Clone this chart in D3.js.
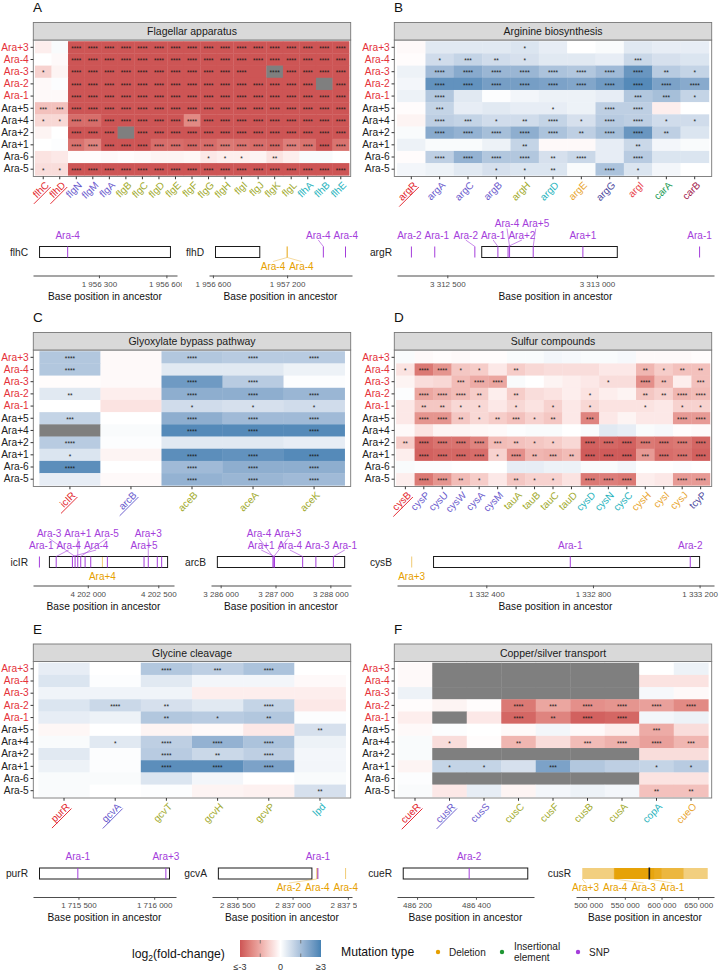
<!DOCTYPE html>
<html><head><meta charset="utf-8">
<script src="https://cdn.jsdelivr.net/npm/d3@7/dist/d3.min.js"></script>
<style>
html,body{margin:0;padding:0;background:#fff;}
svg text{font-family:"Liberation Sans",Arial,Helvetica,sans-serif;}
</style></head>
<body><svg id="chart" width="719" height="971"></svg>
<script>
// ---------------- DATA ----------------
const populations = ["Ara+3","Ara-4","Ara-3","Ara-2","Ara-1","Ara+5","Ara+4","Ara+2","Ara+1","Ara-6","Ara-5"];
const highlightPops = ["Ara+3","Ara-4","Ara-3","Ara-2","Ara-1"];

// Panel A
const genesA = ["flhC","flhD","flgN","flgM","flgA","flgB","flgC","flgD","flgE","flgF","flgG","flgH","flgI","flgJ","flgK","flgL","flhA","flhB","flhE"];
const rolesA = ["reg","reg","bv","bv","bv","ol","ol","ol","ol","ol","ol","ol","ol","ol","ol","ol","tl","tl","tl"];
const fcA = [
 [-0.3,0.1,-3.6,-3.6,-3.6,-3.6,-3.6,-3.6,-3.6,-3.6,-3.6,-3.6,-3.6,-3.6,-3.6,-3.6,-3.6,-3.6,-3.6],
 [0,-0.1,-3.6,-3.6,-3.6,-3.6,-3.6,-3.6,-3.6,-3.6,-3.6,-3.6,-3.6,-3.6,-3.6,-3.6,-3.6,-3.6,-3.6],
 [-0.8,-0.2,-3.6,-3.6,-3.6,-3.6,-3.6,-3.6,-3.6,-3.6,-3.6,-3.6,-3.6,-3.6,null,-3.6,-3.6,-3.6,-3.6],
 [-0.1,0.05,-3.6,-3.6,-3.6,-3.6,-3.6,-3.6,-3.6,-3.6,-3.6,-3.6,-3.6,-3.6,-3.6,-3.6,-3.6,null,-3.6],
 [-0.1,-0.1,-3.6,-3.6,-3.6,-3.6,-3.6,-3.6,-3.6,-3.6,-3.6,-3.6,-3.6,-3.6,-3.6,-3.6,-3.6,-3.6,-3.6],
 [-1.1,-1.1,-3.6,-3.6,-3.6,-3.6,-3.6,-3.6,-3.6,-3.6,-3.6,-3.6,-3.6,-3.6,-3.6,-3.6,-3.6,-3.6,-3.6],
 [-0.7,-0.7,-2.6,-2.6,-3.2,-3.2,-3.2,-3.2,-3.2,-2.1,-3.2,-3.2,-3.2,-3.2,-3.2,-3.2,-3.2,-3.2,-3.2],
 [-0.2,0,-3.6,-3.6,-3.6,null,-3.6,-3.6,-3.6,-3.6,-3.6,-3.6,-3.6,-3.6,-3.6,-3.6,-3.6,-3.6,-3.6],
 [0,0.05,-2.5,-2.2,-3.1,-3.1,-3.1,-2.6,-2.6,-2.7,-2.6,-2.4,-2.5,-2.6,-2.7,-2.3,-2.5,-3.1,-2.5],
 [-0.5,-0.4,-0.05,-0.05,-0.1,-0.05,-0.1,-0.2,-0.2,-0.15,-0.4,-0.3,-0.3,-0.2,-0.5,-0.3,0.1,0.1,0],
 [-0.6,-0.6,-3.6,-3.6,-3.6,-3.6,-3.6,-3.6,-3.6,-3.6,-3.6,-3.6,-3.6,-3.6,-3.6,-3.6,-3.6,-3.6,-3.6]
];
const sigA = ["0044444444444444444","0044444444444444444","1044444444444044444","0044444444444444404","0044444444444444444","3344444444444444444","1144444444444444444","0044404444444444444","0044444444444444444","0000000000111020000","1144444444444444444"];

// Panel B
const genesB = ["argR","argA","argC","argB","argH","argD","argE","argG","argI","carA","carB"];
const rolesB = ["reg","bv","bv","bv","ol","tl","or","dbv","rd","gr","mr"];
const fcB = [
 [-0.1,0.5,0.5,0.5,0.6,0.4,0,0.1,0.5,0.4,0.4],
 [-0.05,0.8,1.0,0.8,0.7,0.5,0.5,0.4,0.9,0.7,0.6],
 [0.3,1.6,2.0,1.7,1.7,1.4,1.3,1.6,2.5,1.2,1.0],
 [0.2,2.6,2.6,2.3,2.3,2.2,2.1,2.4,2.8,2.2,2.0],
 [0.3,1.3,0.5,0.05,0.2,0.3,0.3,0.4,1.3,1.5,1.0],
 [-0.05,1.0,0.4,0.5,0.4,0.4,0.3,1.1,1.1,-0.3,0],
 [-0.2,1.1,1.0,0.8,0.8,1.0,0.7,1.2,1.1,0.8,0.8],
 [0.1,2.0,1.8,1.5,1.9,1.4,1.1,1.5,2.5,1.1,0.6],
 [0.3,0.1,0.1,0.3,1.0,-0.1,-0.1,0.4,0.9,0.2,0.1],
 [-0.05,1.1,1.8,1.3,1.3,0.7,0.9,0.4,1.2,0.6,0.6],
 [0.2,0.3,0.5,0.7,0.6,0.6,0.1,1.4,0.6,0.2,0]
];
const sigB = ["00001000000","01321000300","04444444421","04444444444","04000000331","03000104400","04312414411","04444424420","00002000200","04444240400","00011204100"];

// Panel C
const genesC = ["icIR","arcB","aceB","aceA","aceK"];
const rolesC = ["reg","bv","ol","ol","ol"];
const fcC = [
 [1.3,-0.1,1.3,1.2,1.2],[1.3,-0.1,0.5,0.5,0.3],[-0.05,-0.1,2.4,1.2,0.05],[0.5,-0.3,1.9,1.9,1.7],
 [0,-0.5,0.8,0.7,0.8],[1.0,0,1.9,1.6,1.6],[null,0.1,2.8,2.8,2.8],[1.2,0.05,0.5,0.5,0.4],
 [0.6,-0.2,2.7,2.6,2.8],[2.7,0,1.6,1.9,1.9],[0.4,-0.1,1.8,1.7,1.6]
];
const sigC = ["40444","40000","00440","20444","00111","30444","00444","40000","10444","40444","00444"];

// Panel D
const genesD = ["cysB","cysP","cysU","cysW","cysA","cysM","tauA","tauB","tauC","tauD","cysD","cysN","cysC","cysH","cysI","cysJ","tcyP"];
const rolesD = ["reg","bv","bv","bv","bv","bv","ol","ol","ol","ol","tl","tl","tl","or","or","or","dbv"];
const fcD = [
 [0.1,-0.1,-0.05,-0.1,-0.05,-0.05,0.1,0.1,0.2,0.15,0.1,0.1,0.15,-0.1,-0.1,-0.1,-0.05],
 [-0.5,-2.4,-1.9,-1.0,-0.9,-0.4,-0.9,-0.7,-0.6,-0.6,-0.6,-0.4,-0.4,-1.3,-0.9,-1.1,-1.1],
 [-0.2,-0.6,-0.7,-1.2,-1.5,-1.6,0.1,0,-0.2,-0.3,-0.4,-0.6,-0.6,-2.0,-1.2,-0.3,-1.1],
 [0.05,-1.6,-1.4,-1.2,-0.9,-0.3,-0.9,-0.6,-0.5,-0.3,-0.5,-0.3,-0.2,-1.0,-0.8,-1.3,-1.2],
 [-0.4,-1.0,-1.0,-0.7,-0.7,-0.4,-0.7,-0.5,-0.8,-0.4,-0.7,-0.5,-0.5,-0.5,-0.4,-0.8,-0.8],
 [-0.4,-1.9,-1.9,-1.0,-0.7,-0.9,-1.1,-0.8,-1.0,-0.4,-2.2,-0.4,-0.2,-0.4,-0.4,-1.8,-1.8],
 [-0.1,-0.5,-0.2,-0.2,-0.15,-0.1,0.05,0.1,0.1,0,0.1,0.5,0.4,0.1,0.15,-0.05,-0.1],
 [-0.9,-2.7,-2.5,-2.5,-2.2,-1.2,-1.1,-1.0,-0.9,-0.7,-2.8,-2.7,-2.8,-2.4,-2.5,-2.4,-2.7],
 [-0.3,-2.8,-2.7,-2.7,-2.6,-0.8,-2.0,-1.3,-1.4,-1.2,-2.9,-2.9,-2.9,-1.8,-2.6,-2.5,-2.8],
 [0.1,0.05,0.05,0,0,0,0.4,0.4,0.3,0.3,0.1,0.1,0.2,0,0,0.05,0],
 [-0.3,-2.4,-1.9,-1.2,-0.9,-0.4,-1.0,-0.8,-0.8,-0.5,-2.4,-2.3,-2.4,-0.3,-0.4,-1.8,-1.8]
];
const sigD = ["00000000000000000","14411020000002122","00034400000104203","04442020001002244","02211010101001011","04421231203000044","00000000000000000","24444321104444444","04444142324443444","00000000000000000","04421021104440044"];

// Panel E
const genesE = ["purR","gcvA","gcvT","gcvH","gcvP","lpd"];
const rolesE = ["reg","bv","ol","ol","ol","tl"];
const fcE = [
 [0.4,0,1.3,1.1,1.4,0],[0.6,0.05,0.5,0.2,0.2,-0.1],[0.25,0.25,0.25,-0.3,-0.3,-0.3],[0.6,0.9,0.7,0.5,1.0,-0.4],
 [0.4,0.3,1.3,1.2,1.3,0.05],[-0.15,0,-0.2,-0.1,-0.4,0.7],[0.1,0.5,1.1,1.8,1.4,0.3],[0.5,0.05,1.2,0.9,1.1,0.2],
 [0.3,0.05,2.7,2.7,2.2,0.2],[0.1,0.1,0.6,0.2,0,0.1],[0.1,0,0.05,-0.2,-0.25,0.7]
];
const sigE = ["004340","000000","000000","042040","002120","000002","014440","004240","004440","000000","000002"];

// Panel F
const genesF = ["cueR","cusR","cusS","cusC","cusF","cusB","cusA","copA","cueO"];
const rolesF = ["reg","bv","bv","ol","ol","ol","ol","tl","or"];
const fcF = [
 [-0.1,null,null,null,null,null,null,0,0.3],
 [-0.1,null,null,null,null,null,null,-0.5,-0.5],
 [0.3,null,null,null,null,null,null,0.15,-0.1],
 [-0.05,-0.2,-0.05,-2.4,-1.6,-2.0,-1.9,-1.7,-2.1],
 [-0.3,null,-0.4,-2.7,-2.2,-2.8,-2.7,0.2,0.3],
 [-0.1,0.05,0,-0.1,0.2,-0.1,-0.3,-1.5,-0.6],
 [0.1,-0.6,-0.05,-1.3,-0.6,-1.2,-1.4,-1.7,-1.3],
 [0.1,null,null,null,null,null,null,-0.6,-0.6],
 [-0.2,1.0,1.0,0.7,2.2,1.3,1.1,1.0,1.2],
 [0.05,null,null,null,null,null,null,-0.5,-0.5],
 [0.1,-0.4,0.4,-0.2,0.2,0.3,0.2,-1.1,-1.1]
];
const sigF = ["000000000","000000000","000000000","000434444","000424400","000000030","010203443","000000000","011030011","000000000","000000022"];

// Gene tracks
const trackGenes = ["flhC","flhD","argR","icIR","arcB","cysB","purR","gcvA","cueR","cusR"];
const trackStart = [1956036,1956621,3312615,4201728,3285940,1332202,1715243,2836329,486153,583000];
const trackEnd   = [1956618,1956979,3313068,4202566,3288260,1333200,1716101,2837175,486576,583690];
const trackTicks = [[1956300,1956600],[1956600,1957200],[3312500,3313000],[4202000,4202500],[3286000,3287000,3288000],[1332400,1332800,1333200],[1715500,1716000],[2836500,2837000,2837500],[486200,486400],[500000,550000,600000,650000]];
const mutations = [
 ["flhC","Ara-4","SNP",1956161,1956161],
 ["flhD","Ara-4","Deletion",1957199,1957200],
 ["flhD","Ara-4","Deletion",1957201,1957203],
 ["flhD","Ara-4","SNP",1957493,1957493],
 ["flhD","Ara-4","SNP",1957672,1957672],
 ["argR","Ara-2","SNP",3312380,3312380],
 ["argR","Ara-1","SNP",3312458,3312458],
 ["argR","Ara-2","SNP",3312592,3312592],
 ["argR","Ara-1","SNP",3312669,3312669],
 ["argR","Ara+2","SNP",3312703,3312703],
 ["argR","Ara-4","SNP",3312708,3312708],
 ["argR","Ara+5","SNP",3312787,3312787],
 ["argR","Ara+1","SNP",3312953,3312953],
 ["argR","Ara-1","SNP",3313343,3313343],
 ["icIR","Ara-1","SNP",4201657,4201657],
 ["icIR","Ara-4","SNP",4201776,4201776],
 ["icIR","Ara-4","SNP",4201891,4201891],
 ["icIR","Ara-3","SNP",4201910,4201910],
 ["icIR","Ara+1","SNP",4201929,4201929],
 ["icIR","Ara-5","SNP",4201950,4201950],
 ["icIR","Ara-4","SNP",4201981,4201981],
 ["icIR","Ara+2","SNP",4202021,4202021],
 ["icIR","Ara+2","SNP",4202139,4202139],
 ["icIR","Ara+5","SNP",4202399,4202399],
 ["icIR","Ara+3","SNP",4202429,4202429],
 ["icIR","Ara-2","SNP",4202493,4202493],
 ["icIR","Ara-6","SNP",4202524,4202524],
 ["icIR","Ara+4","Deletion",4202100,4202108],
 ["arcB","Ara-4","SNP",3286953,3286953],
 ["arcB","Ara+3","SNP",3286970,3286970],
 ["arcB","Ara+1","SNP",3286982,3286982],
 ["arcB","Ara-4","SNP",3287495,3287495],
 ["arcB","Ara-3","SNP",3287736,3287736],
 ["arcB","Ara-1","SNP",3288055,3288055],
 ["cysB","Ara+3","Deletion",1332119,1332121],
 ["cysB","Ara-1","SNP",1332715,1332715],
 ["cysB","Ara-2","SNP",1333165,1333165],
 ["purR","Ara-1","SNP",1715496,1715496],
 ["purR","Ara+3","SNP",1716077,1716077],
 ["gcvA","Ara-2","Deletion",2837218,2837220],
 ["gcvA","Ara-4","Deletion",2837224,2837226],
 ["gcvA","Ara-1","SNP",2837229,2837229],
 ["gcvA","Ara-4","Deletion",2837478,2837480],
 ["cueR","Ara-2","SNP",486377,486377],
 ["cusR","Ara+3","Deletion",492000,663000],
 ["cusR","Ara-4","Deletion",535000,630000],
 ["cusR","Ara-3","Deletion",535500,600000],
 ["cusR","Ara+2","Deletion",536000,590000],
 ["cusR","Ara-6","Deletion",537000,585000],
 ["cusR","Ara-1","Deletion",583000,583600]
];
const colorBreaks = [-3,0,3];
const colorBreakLabels = ["\u2264-3","0","\u22653"];
const mutationTypes = ["Deletion","Insertional element","SNP"];

// ---------------- STYLE / LAYOUT ----------------
const svg = d3.select("#chart");
const color = d3.scaleLinear().domain([-3,0,3]).range(["#CD5555","#FFFFFF","#4682B4"]).interpolate(d3.interpolateLab).clamp(true);
const roleColor = {reg:"#E3262D", bv:"#6A5ACD", ol:"#9FAA2C", tl:"#27B3BD", or:"#E8A530", dbv:"#4E4A9E", rd:"#E8424A", gr:"#239B56", mr:"#A3224E"};
const POP_RED = "#E5323A", TXT = "#222222";
const typeColor = {"Deletion":"#E69F00","Insertional element":"#1E9632","SNP":"#A43DDB"};
const colX = [[33.3,350.7],[394.3,711.7]];
const letterX = [33, 394];
const rowY = [22.5,332.5,644];
const STRIP_H = 17.5, PANEL_H = 136.5;
const fmtBp = d3.formatLocale({thousands:" ", grouping:[3], decimal:".", currency:["",""]}).format(",");

const measurer = svg.append("text").attr("visibility","hidden");
function textW(s, fs){ measurer.attr("font-size",fs).text(s); return measurer.node().getComputedTextLength(); }

const panels = [
 {letter:"A", title:"Flagellar apparatus", genes:genesA, roles:rolesA, under:2, fc:fcA, sig:sigA, col:0, row:0},
 {letter:"B", title:"Arginine biosynthesis", genes:genesB, roles:rolesB, under:1, fc:fcB, sig:sigB, col:1, row:0},
 {letter:"C", title:"Glyoxylate bypass pathway", genes:genesC, roles:rolesC, under:2, fc:fcC, sig:sigC, col:0, row:1},
 {letter:"D", title:"Sulfur compounds", genes:genesD, roles:rolesD, under:1, fc:fcD, sig:sigD, col:1, row:1},
 {letter:"E", title:"Glycine cleavage", genes:genesE, roles:rolesE, under:2, fc:fcE, sig:sigE, col:0, row:2},
 {letter:"F", title:"Copper/silver transport", genes:genesF, roles:rolesF, under:2, fc:fcF, sig:sigF, col:1, row:2}
];

function drawHeat(p){
  const [x0,x1]=colX[p.col], sTop=rowY[p.row], pTop=sTop+STRIP_H, pBot=pTop+PANEL_H;
  const xs=d3.scaleBand().domain(p.genes).range([x0,x1]).paddingInner(0).paddingOuter(0.1);
  const ys=d3.scaleBand().domain(populations).range([pTop,pBot]).paddingInner(0).paddingOuter(0.1);
  const g=svg.append("g");
  g.append("text").attr("x",letterX[p.col]).attr("y",sTop-10.5).attr("font-size",13.5).attr("fill","#111").text(p.letter);
  g.append("rect").attr("x",x0).attr("y",pTop).attr("width",x1-x0).attr("height",pBot-pTop).attr("fill","#fff");
  const cells=[];
  populations.forEach((pop,i)=>p.genes.forEach((gene,j)=>cells.push({pop,gene,v:p.fc[i][j],s:+p.sig[i][j]})));
  g.append("g").selectAll("rect").data(cells).join("rect")
    .attr("x",d=>xs(d.gene)).attr("y",d=>ys(d.pop))
    .attr("width",xs.bandwidth()+0.35).attr("height",ys.bandwidth()+0.35)
    .attr("fill",d=>d.v==null?"#7F7F7F":color(d.v));
  g.append("g").selectAll("text").data(cells.filter(d=>d.s>0)).join("text")
    .attr("x",d=>xs(d.gene)+xs.bandwidth()/2).attr("y",d=>ys(d.pop)+ys.bandwidth()/2+3.7)
    .attr("text-anchor","middle").attr("font-size",6.5).attr("fill","#1a1a1a")
    .text(d=>"*".repeat(d.s));
  g.append("rect").attr("x",x0).attr("y",pTop).attr("width",x1-x0).attr("height",pBot-pTop)
    .attr("fill","none").attr("stroke","#777").attr("stroke-width",0.9);
  g.append("rect").attr("x",x0).attr("y",sTop).attr("width",x1-x0).attr("height",STRIP_H)
    .attr("fill","#D9D9D9").attr("stroke","#777").attr("stroke-width",0.9);
  g.append("text").attr("x",(x0+x1)/2).attr("y",sTop+STRIP_H/2+3.8).attr("text-anchor","middle")
    .attr("font-size",10.5).attr("fill","#1a1a1a").text(p.title);
  const ya=g.append("g").attr("transform",`translate(${x0},0)`).call(d3.axisLeft(ys).tickSize(2.75).tickPadding(1.8));
  ya.attr("font-family",null).attr("font-size",null);
  ya.select(".domain").remove();
  ya.selectAll(".tick line").attr("stroke","#333");
  ya.selectAll(".tick text").attr("font-size",10.2).attr("fill",d=>highlightPops.includes(d)?POP_RED:TXT);
  const xa=g.append("g").attr("transform",`translate(0,${pBot})`).call(d3.axisBottom(xs).tickSize(2.75));
  xa.attr("font-family",null).attr("font-size",null);
  xa.select(".domain").remove();
  xa.selectAll(".tick line").attr("stroke","#333");
  xa.selectAll(".tick text").attr("x",0).attr("y",0).attr("dy","0.75em")
    .attr("transform","translate(1,4) rotate(-45)").attr("text-anchor","end")
    .attr("font-size",10).attr("fill",(d,i)=>roleColor[p.roles[i]]);
  xa.selectAll(".tick").each(function(d,i){
    if(i<p.under){
      const w=d3.select(this).select("text").node().getComputedTextLength();
      d3.select(this).append("line").attr("transform","translate(1,4) rotate(-45)")
        .attr("x1",-w-6).attr("x2",0).attr("y1",9.2).attr("y2",9.2)
        .attr("stroke",roleColor[p.roles[i]]).attr("stroke-width",0.9);
    }
  });
}
panels.forEach(drawHeat);

// ---------- label placement (simple 1D repel) ----------
function place1D(items,xmin,xmax,gap){
  const cl=[];
  const fit=c=>{let off=0,s=0;c.items.forEach(it=>{it.off=off;s+=it.ax-it.w/2-off;off+=it.w+gap;});
    c.W=off-gap;c.L=s/c.items.length;c.L=Math.max(xmin,Math.min(xmax-c.W,c.L));};
  for(const it of items){let c={items:[it]};fit(c);
    while(cl.length&&cl[cl.length-1].L+cl[cl.length-1].W+gap>c.L){const q=cl.pop();c={items:q.items.concat(c.items)};fit(c);}
    cl.push(c);}
  cl.forEach(c=>c.items.forEach(it=>{it.lx=c.L+it.off+it.w/2;}));
}
function placeLabels(items,xmin,xmax,maxShift,nTiers,gap){
  items.sort((a,b)=>a.ax-b.ax);
  items.forEach(it=>it.tier=0);
  for(let iter=0;iter<80;iter++){
    for(let t=0;t<nTiers;t++) place1D(items.filter(it=>it.tier===t),xmin,xmax,gap);
    let worst=null;
    for(const it of items){ if(it.tier<0) continue; const dd=Math.abs(it.lx-it.ax);
      if(dd>maxShift&&(!worst||dd>Math.abs(worst.lx-worst.ax))) worst=it; }
    if(!worst) break;
    worst.tier = worst.tier+1<nTiers ? worst.tier+1 : -1;
  }
}

const trackLayout = {
 flhC:{row:0,r:[33,177]}, flhD:{row:0,r:[209,352]}, argR:{row:0,r:[397,714]},
 icIR:{row:1,r:[33,174]}, arcB:{row:1,r:[211,351]}, cysB:{row:1,r:[397,714]},
 purR:{row:2,r:[33,176]}, gcvA:{row:2,r:[212,352]}, cueR:{row:2,r:[397,534]}, cusR:{row:2,r:[576,714]}
};
let clipId=0;
function drawTrack(ti){
  const gene=trackGenes[ti], lay=trackLayout[gene], y0=rowY[lay.row];
  const [r0,r1]=lay.r;
  const boxTop=y0+224, boxBot=y0+235, axisY=y0+253;
  const muts=mutations.filter(m=>m[0]===gene).map(m=>({pop:m[1],type:m[2],s:m[3],e:m[4]}));
  const lo=d3.min([trackStart[ti],...muts.map(m=>m.s)]), hi=d3.max([trackEnd[ti],...muts.map(m=>m.e)]);
  const pad=(hi-lo)*0.05;
  const x=d3.scaleLinear().domain([lo-pad,hi+pad]).range([r0,r1]);
  const g=svg.append("g");
  const cid="clip"+(clipId++);
  g.append("clipPath").attr("id",cid).append("rect").attr("x",r0-60).attr("y",y0+190).attr("width",r1-r0+65).attr("height",100);
  const gc=g.append("g").attr("clip-path",`url(#${cid})`);
  g.append("text").attr("x",r0-5).attr("y",(boxTop+boxBot)/2+3.6).attr("text-anchor","end")
    .attr("font-size",10.2).attr("fill",TXT).text(gene);
  const gx0=x(trackStart[ti]), gx1=x(trackEnd[ti]);
  gc.append("rect").attr("x",gx0).attr("y",boxTop).attr("width",Math.max(0.6,gx1-gx0)).attr("height",boxBot-boxTop).attr("fill","#fff");
  const dels=muts.filter(m=>m.type==="Deletion");
  dels.forEach(m=>{
    const a=x(m.s), b=x(m.e);
    if(b-a<1.5){
      gc.append("line").attr("x1",(a+b)/2).attr("x2",(a+b)/2).attr("y1",boxTop).attr("y2",boxBot)
        .attr("stroke",typeColor.Deletion).attr("stroke-opacity",0.5).attr("stroke-width",1.1);
      m.ax=(a+b)/2;
    } else {
      gc.append("rect").attr("x",a).attr("y",boxTop).attr("width",b-a).attr("height",boxBot-boxTop)
        .attr("fill",typeColor.Deletion).attr("fill-opacity",0.5);
      m.ax=a;
    }
  });
  gc.append("rect").attr("x",gx0).attr("y",boxTop).attr("width",Math.max(0.6,gx1-gx0)).attr("height",boxBot-boxTop)
    .attr("fill","none").attr("stroke","#1a1a1a").attr("stroke-width",1);
  const snps=muts.filter(m=>m.type==="SNP");
  snps.forEach(m=>{ m.ax=x(m.s);
    gc.append("line").attr("x1",m.ax).attr("x2",m.ax).attr("y1",boxTop).attr("y2",boxBot)
      .attr("stroke",typeColor.SNP).attr("stroke-width",1);
  });
  const fs=10;
  snps.forEach(m=>{m.w=textW(m.pop,fs);});
  dels.forEach(m=>{m.w=textW(m.pop,fs);});
  placeLabels(snps,r0-4,r1+6,32,2,3);
  placeLabels(dels,r0-4,r1+6,34,1,4);
  snps.filter(m=>m.tier>=0).forEach(m=>{
    const base=boxTop-8-m.tier*11.5;
    const sx=m.lx, sy=base+1.5, len=Math.hypot(sx-m.ax,sy-boxTop);
    if(len>7) g.append("line").attr("x1",sx).attr("y1",sy).attr("x2",m.ax).attr("y2",boxTop)
      .attr("stroke",typeColor.SNP).attr("stroke-width",0.6);
    g.append("text").attr("x",m.lx).attr("y",base).attr("text-anchor","middle").attr("font-size",fs)
      .attr("fill",typeColor.SNP).text(m.pop);
  });
  dels.filter(m=>m.tier>=0).forEach(m=>{
    const base=boxBot+12;
    const ex=m.lx, ey=base-8, len=Math.hypot(ex-m.ax,ey-boxBot);
    if(len>5) g.append("line").attr("x1",m.ax).attr("y1",boxBot).attr("x2",ex).attr("y2",ey)
      .attr("stroke",typeColor.Deletion).attr("stroke-opacity",0.55).attr("stroke-width",0.7);
    g.append("text").attr("x",m.lx).attr("y",base).attr("text-anchor","middle").attr("font-size",fs)
      .attr("fill",typeColor.Deletion).text(m.pop);
  });
  const ax=gc.append("g").attr("transform",`translate(0,${axisY})`)
    .call(d3.axisBottom(x).tickValues(trackTicks[ti]).tickSize(2.75).tickSizeOuter(0).tickFormat(fmtBp));
  ax.attr("font-family",null).attr("font-size",null);
  ax.select(".domain").attr("stroke","#4D4D4D").attr("stroke-width",1.1);
  ax.selectAll(".tick line").attr("stroke","#4D4D4D");
  ax.selectAll(".tick text").attr("font-size",8).attr("fill","#4D4D4D");
  g.append("text").attr("x",(r0+r1)/2).attr("y",axisY+24).attr("text-anchor","middle")
    .attr("font-size",10.2).attr("fill","#111").text("Base position in ancestor");
}
trackGenes.forEach((g,i)=>drawTrack(i));

// ---------- legend ----------
(function(){
  const lg=svg.append("g");
  const t=lg.append("text").attr("x",132).attr("y",957.5).attr("font-size",12.2).attr("fill","#111");
  t.append("tspan").text("log");
  t.append("tspan").attr("font-size",8.5).attr("dy",3).text("2");
  t.append("tspan").attr("dy",-3).text("(fold-change)");
  const bx=240, bw=81, by=940, bh=17;
  const defs=svg.append("defs");
  const grad=defs.append("linearGradient").attr("id","fcgrad");
  d3.range(0,1.0001,0.05).forEach(f=>grad.append("stop").attr("offset",f).attr("stop-color",color(-3+6*f)));
  const cs=d3.scaleLinear().domain([-3,3]).range([bx,bx+bw]);
  lg.append("rect").attr("x",bx).attr("y",by).attr("width",bw).attr("height",bh).attr("fill","url(#fcgrad)");
  [-1.5,1.5].forEach(v=>{
    lg.append("line").attr("x1",cs(v)).attr("x2",cs(v)).attr("y1",by).attr("y2",by+3.5).attr("stroke","#666").attr("stroke-width",0.8);
    lg.append("line").attr("x1",cs(v)).attr("x2",cs(v)).attr("y1",by+bh-3.5).attr("y2",by+bh).attr("stroke","#666").attr("stroke-width",0.8);
  });
  colorBreaks.forEach((b,i)=>lg.append("text").attr("x",cs(b)).attr("y",969.5).attr("text-anchor","middle")
    .attr("font-size",9).attr("fill","#333").text(colorBreakLabels[i]));
  lg.append("text").attr("x",341).attr("y",956).attr("font-size",12.2).attr("fill","#111").text("Mutation type");
  const itemX=[438,502,578];
  mutationTypes.forEach((m,i)=>{
    lg.append("circle").attr("cx",itemX[i]).attr("cy",952).attr("r",2.2).attr("fill",typeColor[m]);
    if(m==="Insertional element"){
      lg.append("text").attr("x",itemX[i]+12).attr("y",950).attr("font-size",10).attr("fill","#222").text("Insertional");
      lg.append("text").attr("x",itemX[i]+12).attr("y",961).attr("font-size",10).attr("fill","#222").text("element");
    } else {
      lg.append("text").attr("x",itemX[i]+11).attr("y",955.5).attr("font-size",10).attr("fill","#222").text(m);
    }
  });
})();
measurer.remove();
</script></body></html>
